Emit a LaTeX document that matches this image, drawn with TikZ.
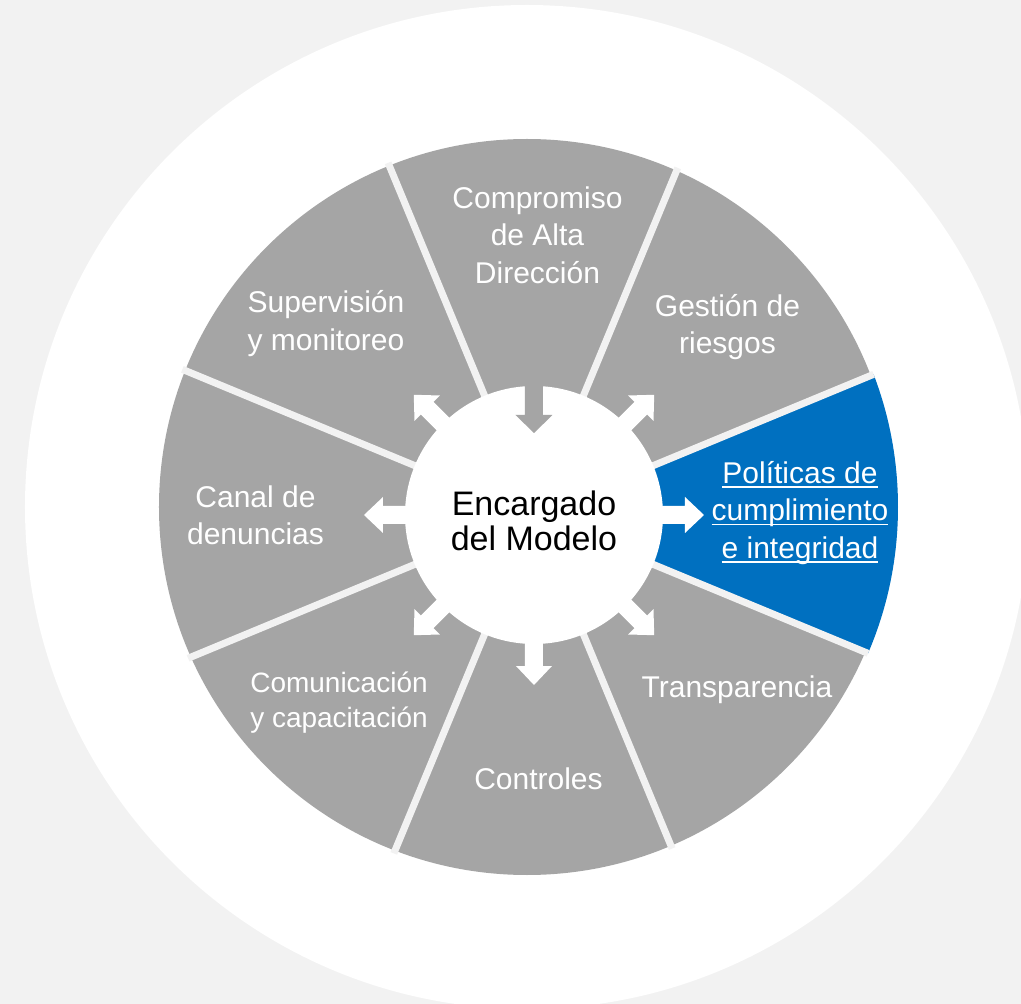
\documentclass[tikz,border=0pt]{standalone}
\usepackage{fontspec}
\setmainfont{Liberation Sans}
\definecolor{bggray}{HTML}{F2F2F2}
\definecolor{seggray}{HTML}{A5A5A5}
\definecolor{polblue}{HTML}{0070C0}
\newsavebox\ulbox
\newcommand{\ulline}[1]{\sbox\ulbox{#1}\rlap{\rule[-4.5pt]{\wd\ulbox}{1.6pt}}\usebox\ulbox}

\begin{document}
\begin{tikzpicture}[x=1pt,y=1pt,
	seglabel/.style={text=white,align=center,font=\fontsize{30}{37.5}\selectfont},
	hub/.style={circle,fill=white,minimum size=258pt,inner sep=0pt,align=center,font=\fontsize{34}{35}\selectfont},
	divider/.style={draw=bggray,line width=7pt},
	outarrow/.style={fill=white},
	inarrow/.style={fill=seggray}
]

	\fill[bggray] (-534,-489) rectangle (487,515);
	\useasboundingbox (-534,-489) rectangle (487,515);
	\fill[white] (-7,8) circle (502);

	% wheel
	\fill[seggray] (-7,8) circle (368);
	\begin{scope}
		\clip (-7,8) circle (371);
		\fill[polblue] (0,0) -- (-22.5:600) -- (22.5:600) -- cycle;
		\foreach \a in {22.5,67.5,...,337.5}
			\draw[divider] (0,0) -- (\a:450);
	\end{scope}

	\node[hub] (hub) at (0,0) {};

	% arrows
	\foreach \a in {0,45,135,180,225,270,315}
		\fill[outarrow,rotate=\a] (100,-9) -- (151,-9) -- (151,-18) -- (170,0) -- (151,18) -- (151,9) -- (100,9) -- cycle;
	\fill[inarrow,rotate=90] (150,9) -- (100,9) -- (100,18.5) -- (82,0) -- (100,-18.5) -- (100,-9) -- (150,-9) -- cycle;

	\node[font=\fontsize{34}{35}\selectfont,align=center] (encargado) at ([yshift=-6pt]hub.center) {Encargado\\del Modelo};

	% labels
	\node[seglabel] (compromiso) at (3.5,280) {Compromiso\\de Alta\\Dirección};
	\node[seglabel] (riesgos) at (193.5,188) {Gestión de\\riesgos};
	\node[seglabel] (politicas) at (266,2) {\ulline{Políticas de}\\\ulline{cumplimiento}\\\ulline{e integridad}};
	\node[seglabel] (transparencia) at (203,-175) {Transparencia};
	\node[seglabel] (controles) at (4.5,-264) {Controles};
	\node[seglabel,font=\fontsize{28}{35}\selectfont] (comunicacion) at (-195,-188) {Comunicación\\y capacitación};
	\node[seglabel] (canal) at (-278.5,-0.5) {Canal de\\denuncias};
	\node[seglabel] (supervision) at (-208,191.5) {Supervisión\\y monitoreo};

\end{tikzpicture}
\end{document}
